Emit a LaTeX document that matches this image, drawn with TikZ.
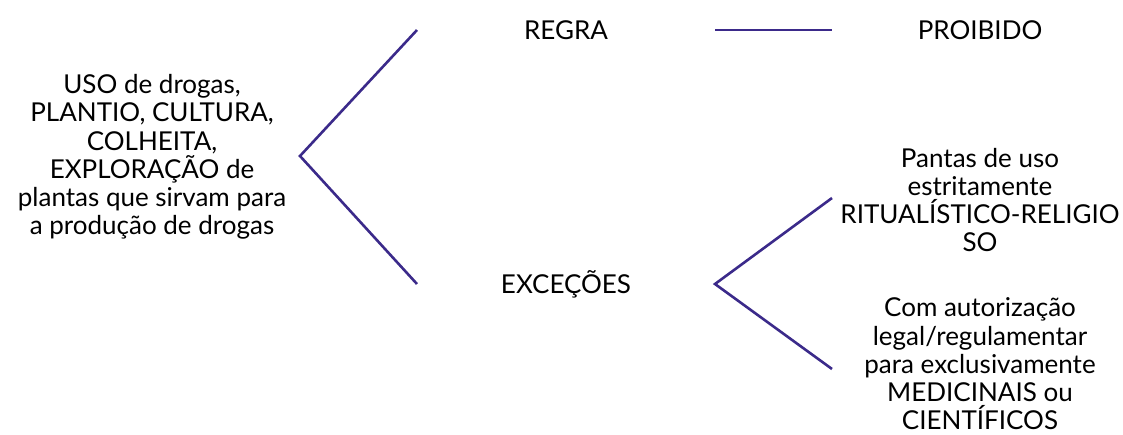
\documentclass[tikz,border=0pt]{standalone}
\usepackage{fontspec}
\setmainfont{Lato}
\begin{document}
\begin{tikzpicture}[x=1pt,y=-1pt,
  txt/.style={align=center,inner sep=0pt,font=\fontsize{26}{28.2}\selectfont},
  conn/.style={draw={rgb,255:red,59;green,42;blue,138},line width=2.6pt}]
\useasboundingbox (0,0) rectangle (1123,434);
\node[txt] (uso) at (152,157) {USO de drogas,\\PLANTIO, CULTURA,\\COLHEITA,\\EXPLORAÇÃO de\\plantas que sirvam para\\a produção de drogas};
\node[txt] (regra) at (566,30) {REGRA};
\node[txt] (proib) at (980,30) {PROIBIDO};
\node[txt] (exc) at (566,284) {EXCEÇÕES};
\node[txt] (rit) at (980,200) {Pantas de uso\\estritamente\\RITUALÍSTICO-RELIGIO\\SO};
\node[txt] (med) at (980,364) {Com autorização\\legal/regulamentar\\para exclusivamente\\MEDICINAIS ou\\CIENTÍFICOS};
\coordinate (p0) at (300,156);
\coordinate (pr) at (417,30);
\coordinate (pe) at (417,284);
\coordinate (q0) at (715,30);
\coordinate (q1) at (832,30);
\coordinate (e0) at (715,284);
\coordinate (e1) at (832,198);
\coordinate (e2) at (832,369);
\draw[conn] (pr) -- (p0) -- (pe);
\draw[conn] (q0) -- (q1);
\draw[conn] (e1) -- (e0) -- (e2);
\end{tikzpicture}
\end{document}
